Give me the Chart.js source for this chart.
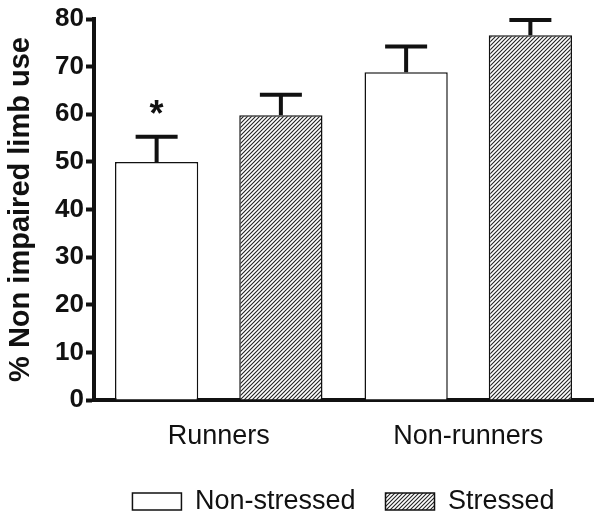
<!DOCTYPE html>
<html>
<head>
<meta charset="utf-8">
<script src="https://cdn.jsdelivr.net/npm/chart.js@4"></script>
<style>
  html, body { margin: 0; padding: 0; background: #fff; }
  #wrap { width: 604px; height: 520px; }
</style>
</head>
<body>
<div id="wrap"><canvas id="c"></canvas></div>
<script>
const groups = ['Runners', 'Non-runners'];
const seriesNames = ['Non-stressed', 'Stressed'];
const nonStressed = [50, 68.8];
const stressed = [59.8, 76.6];
const nonStressedErr = [5.3, 5.4];
const stressedErr = [4.3, 3.2];
const nonStressedMarks = ['*', ''];
const stressedMarks = ['', ''];
const yMin = 0, yMax = 80, yStep = 10;

const INK = '#111';
const FAMILY = '"Liberation Sans", Arial, Helvetica, sans-serif';

function hatch() {
  const s = 4, cv = document.createElement('canvas');
  cv.width = cv.height = s;
  const g = cv.getContext('2d');
  g.fillStyle = '#fff'; g.fillRect(0, 0, s, s);
  g.strokeStyle = '#222'; g.lineWidth = 1.1;
  g.beginPath();
  g.moveTo(0, s); g.lineTo(s, 0);
  g.moveTo(-1, 1); g.lineTo(1, -1);
  g.moveTo(s - 1, s + 1); g.lineTo(s + 1, s - 1);
  g.stroke();
  return g.createPattern(cv, 'repeat');
}

// upward-only error bars + significance marks
const errorBars = {
  id: 'errorBars',
  afterDatasetsDraw(chart) {
    const { ctx, scales: { y } } = chart;
    ctx.save();
    ctx.strokeStyle = INK;
    ctx.lineWidth = 4;
    chart.data.datasets.forEach((ds, i) => {
      const meta = chart.getDatasetMeta(i);
      meta.data.forEach((bar, j) => {
        const top = y.getPixelForValue(ds.data[j] + ds.errors[j]);
        ctx.beginPath();
        ctx.moveTo(bar.x, bar.y);
        ctx.lineTo(bar.x, top);
        ctx.moveTo(bar.x - 21, top);
        ctx.lineTo(bar.x + 21, top);
        ctx.stroke();
        if (ds.marks[j]) {
          ctx.fillStyle = INK;
          ctx.font = `bold 36px ${FAMILY}`;
          ctx.textAlign = 'center';
          ctx.textBaseline = 'alphabetic';
          ctx.fillText(ds.marks[j], bar.x, top - 11);
        }
      });
    });
    ctx.restore();
  }
};

const pattern = hatch();

new Chart(document.getElementById('c'), {
  type: 'bar',
  data: {
    labels: groups,
    datasets: [
      { label: seriesNames[0], data: nonStressed, errors: nonStressedErr, marks: nonStressedMarks,
        backgroundColor: '#fff', borderColor: INK, borderWidth: 1.5 },
      { label: seriesNames[1], data: stressed, errors: stressedErr, marks: stressedMarks,
        backgroundColor: pattern, borderColor: INK, borderWidth: 1.5 }
    ]
  },
  options: {
    responsive: true,
    maintainAspectRatio: false,
    animation: false,
    categoryPercentage: 0.996,
    barPercentage: 0.67,
    layout: { padding: { top: 19, right: 11, left: 0, bottom: -5 } },
    plugins: {
      legend: {
        position: 'bottom',
        fullSize: false,
        labels: {
          color: INK,
          font: { family: FAMILY, size: 27 },
          boxWidth: 49, boxHeight: 17, padding: 30
        }
      },
      tooltip: { enabled: false }
    },
    scales: {
      x: {
        grid: { display: false, drawTicks: false },
        border: { display: true, width: 4, color: INK },
        ticks: { color: INK, font: { family: FAMILY, size: 27 }, padding: 20 },
        afterFit: s => { s.height = 58; }
      },
      y: {
        min: yMin, max: yMax,
        ticks: { stepSize: yStep, color: INK, font: { family: FAMILY, size: 26, weight: 'bold' }, padding: 2 },
        grid: { drawOnChartArea: false, drawTicks: true, tickLength: 8, tickWidth: 4, tickColor: INK },
        border: { display: true, width: 4, color: INK },
        title: { display: true, text: '% Non impaired limb use', color: INK,
                 font: { family: FAMILY, size: 29, weight: 'bold' }, padding: { top: 4, bottom: 2 } },
        afterFit: s => { s.width = 94; }
      }
    }
  },
  plugins: [errorBars]
});
</script>
</body>
</html>
